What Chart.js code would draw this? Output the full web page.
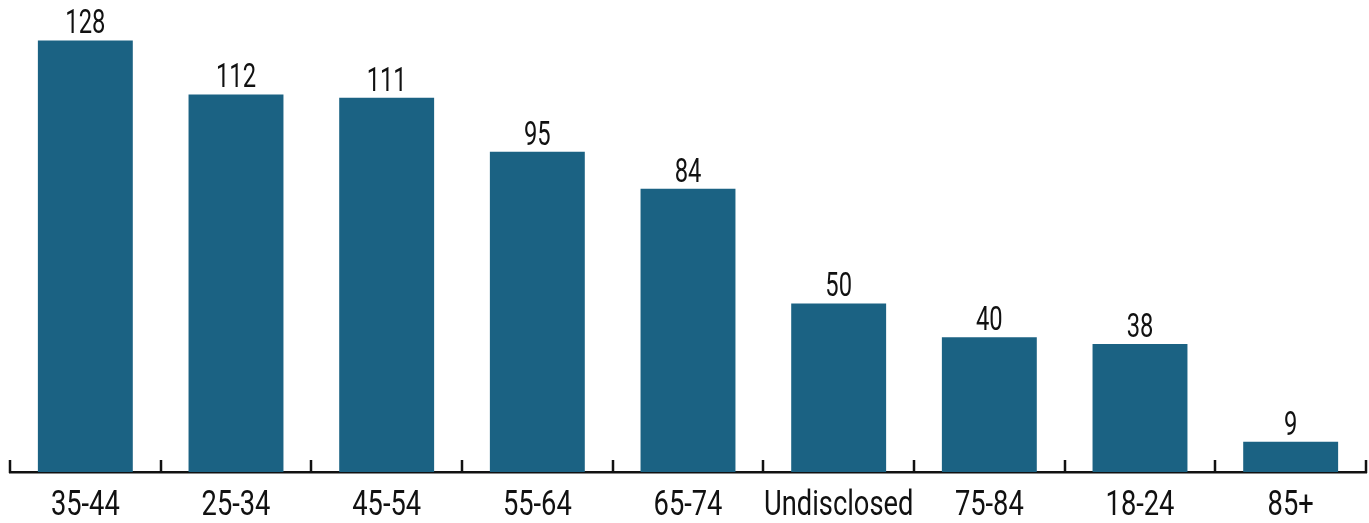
<!DOCTYPE html>
<html>
<head>
<meta charset="utf-8">
<script src="https://cdn.jsdelivr.net/npm/chart.js@4"></script>
<style>
  html, body { margin: 0; padding: 0; background: #fff; }
  #wrap { width: 1369px; height: 523px; position: relative; }
</style>
</head>
<body>
<div id="wrap"><canvas id="c"></canvas></div>
<script>
const categories = ["35-44", "25-34", "45-54", "55-64", "65-74", "Undisclosed", "75-84", "18-24", "85+"];
const counts = [128, 112, 111, 95, 84, 50, 40, 38, 9];

const FONT = "Roboto, 'DejaVu Sans Condensed', sans-serif";
const BAR_COLOR = "#1b6283";
const INK = "#111111";

function drawNarrowText(ctx, text, x, y, size, sx) {
  ctx.save();
  ctx.translate(x, y);
  ctx.scale(sx, 1);
  ctx.font = size + "px " + FONT;
  ctx.fillText(text, 0, 0);
  ctx.restore();
}

const axisDecor = {
  id: "axisDecor",
  afterDraw(chart) {
    const ctx = chart.ctx;
    const xs = chart.scales.x;
    const area = chart.chartArea;
    const n = chart.data.labels.length;
    const half = (xs.getPixelForValue(1) - xs.getPixelForValue(0)) / 2;
    ctx.save();
    // upward tick marks at category boundaries
    ctx.strokeStyle = INK;
    ctx.lineWidth = 2.5;
    ctx.beginPath();
    for (let i = 0; i <= n; i++) {
      const px = i < n ? xs.getPixelForValue(i) - half : xs.getPixelForValue(n - 1) + half;
      const ax = Math.round(px);
      ctx.moveTo(ax, area.bottom + 1);
      ctx.lineTo(ax, area.bottom - 12);
    }
    ctx.stroke();
    // category labels
    ctx.fillStyle = INK;
    ctx.textAlign = "center";
    ctx.textBaseline = "alphabetic";
    chart.data.labels.forEach((lab, i) => {
      drawNarrowText(ctx, lab, xs.getPixelForValue(i), area.bottom + 43, 35, 0.78);
    });
    // value labels above bars
    const meta = chart.getDatasetMeta(0);
    meta.data.forEach((bar, i) => {
      drawNarrowText(ctx, String(chart.data.datasets[0].data[i]), bar.x, bar.y - 7, 33, 0.72);
    });
    ctx.restore();
  }
};

new Chart(document.getElementById("c"), {
  type: "bar",
  data: {
    labels: categories,
    datasets: [{
      data: counts,
      backgroundColor: BAR_COLOR,
      borderWidth: 0,
      categoryPercentage: 1.0,
      barPercentage: 0.63
    }]
  },
  options: {
    responsive: true,
    maintainAspectRatio: false,
    animation: false,
    layout: { padding: { left: 10, right: 3, top: 0, bottom: 0 } },
    plugins: { legend: { display: false }, tooltip: { enabled: false } },
    scales: {
      y: { display: false, min: 0, max: 140 },
      x: {
        border: { display: true, color: INK, width: 2.5 },
        grid: { display: false },
        ticks: { display: false },
        afterFit(scale) { scale.height = 51; }
      }
    }
  },
  plugins: [axisDecor]
});
</script>
</body>
</html>
